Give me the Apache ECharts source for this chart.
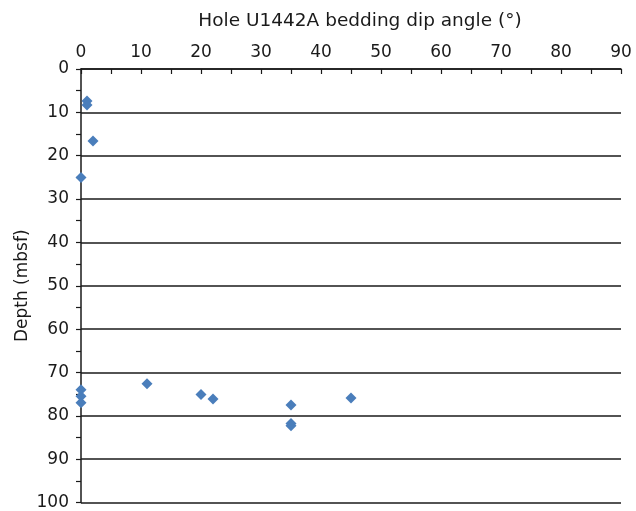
<!DOCTYPE html>
<html>
<head>
<meta charset="utf-8">
<script src="https://cdn.jsdelivr.net/npm/echarts@6/dist/echarts.min.js"></script>
<style>
  html, body { margin: 0; padding: 0; background: #fff; }
  #chart { width: 636px; height: 511px; }
</style>
</head>
<body>
<div id="chart"></div>
<script>
// Bedding dip angle (°) against depth (mbsf), Hole U1442A
const dipAngle = [1, 1, 2, 0, 0, 0, 0, 11, 20, 22, 35, 35, 35, 45];
const depth    = [7.4, 8.3, 16.6, 25, 74, 75.5, 77, 72.6, 75.1, 76.1, 77.5, 81.8, 82.3, 75.9];

const ink = '#1a1a1a';
const font = '"DejaVu Sans", sans-serif';
const fontSize = 17;

const points = dipAngle.map((a, i) => [a, depth[i]]);

const chart = echarts.init(document.getElementById('chart'), null, { renderer: 'canvas' });
chart.setOption({
  animation: false,
  backgroundColor: '#fff',
  title: {
    text: 'Hole U1442A bedding dip angle (°)',
    left: 355, top: 7,
    textAlign: 'center',
    textStyle: { color: ink, fontSize: 18.5, fontWeight: 'normal', fontFamily: font }
  },
  grid: { left: 81, right: 15, top: 69, bottom: 7, containLabel: false },
  xAxis: {
    type: 'value',
    position: 'top',
    min: 0, max: 90, interval: 10,
    axisLine: { show: true, onZero: false, lineStyle: { color: ink, width: 1.5 } },
    axisTick: { show: true, inside: true, length: 5, lineStyle: { color: ink, width: 1.2 } },
    minorTick: { show: true, splitNumber: 2, length: 5, lineStyle: { color: ink, width: 1.2 } },
    axisLabel: { color: ink, fontSize: fontSize, fontFamily: font, margin: 8 },
    splitLine: { show: false }
  },
  yAxis: {
    type: 'value',
    inverse: true,
    min: 0, max: 100, interval: 10,
    name: 'Depth (mbsf)',
    nameLocation: 'middle',
    nameGap: 50,
    nameMoveOverlap: false,
    nameRotate: 90,
    nameTextStyle: { color: ink, fontSize: fontSize, fontFamily: font },
    axisLine: { show: true, onZero: false, lineStyle: { color: ink, width: 1.5 } },
    axisTick: { show: true, inside: false, length: 5, lineStyle: { color: ink, width: 1.2 } },
    minorTick: { show: true, splitNumber: 2, length: 5, lineStyle: { color: ink, width: 1.2 } },
    axisLabel: { color: ink, fontSize: fontSize, fontFamily: font, margin: 12 },
    splitLine: { show: true, lineStyle: { color: ink, width: 1.5 } }
  },
  series: [{
    type: 'scatter',
    data: points,
    symbol: 'diamond',
    symbolSize: 11,
    itemStyle: { color: '#4a7ebb', opacity: 1 },
    z: 5
  }]
});
</script>
</body>
</html>
